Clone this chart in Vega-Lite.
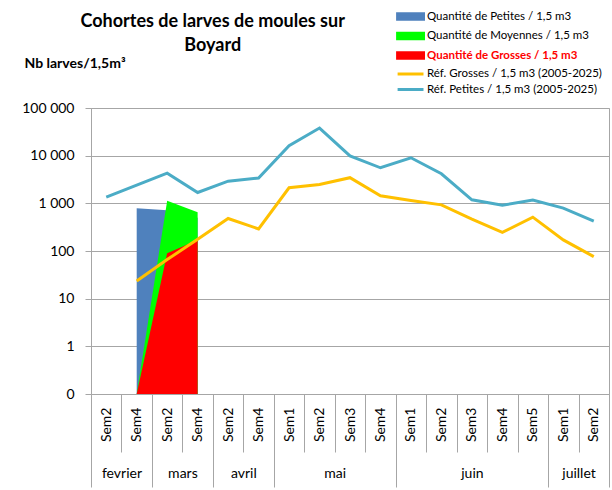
{
  "$schema": "https://vega.github.io/schema/vega-lite/v6.json",
  "width": 518,
  "height": 286,
  "autosize": {"type": "none"},
  "padding": {"left": 91, "top": 108, "right": 3, "bottom": 96},
  "background": "white",
  "config": {"view": {"stroke": "#a6a6a6"}, "font": "Lato"},
  "title": {
    "text": ["Cohortes de larves de moules sur", "Boyard"],
    "anchor": "start",
    "align": "center",
    "dx": 191,
    "offset": -47,
    "font": "Lato",
    "fontSize": 18,
    "fontWeight": "bold",
    "color": "black",
    "lineHeight": 24
  },
  "data": {
    "values": [
      {"wk": "fevrier|Sem4", "series": "Quantité de Petites / 1,5 m3", "value": 790},
      {"wk": "mars|Sem2", "series": "Quantité de Petites / 1,5 m3", "value": 715},
      {"wk": "mars|Sem4", "series": "Quantité de Petites / 1,5 m3", "value": 500},
      {"wk": "fevrier|Sem4", "series": "Quantité de Moyennes / 1,5 m3", "value": 0.1},
      {"wk": "mars|Sem2", "series": "Quantité de Moyennes / 1,5 m3", "value": 1130},
      {"wk": "mars|Sem4", "series": "Quantité de Moyennes / 1,5 m3", "value": 653},
      {"wk": "fevrier|Sem4", "series": "Quantité de Grosses / 1,5 m3", "value": 0.1},
      {"wk": "mars|Sem2", "series": "Quantité de Grosses / 1,5 m3", "value": 90},
      {"wk": "mars|Sem4", "series": "Quantité de Grosses / 1,5 m3", "value": 171},
      {"wk": "fevrier|Sem4", "series": "Réf. Grosses / 1,5 m3 (2005-2025)", "value": 23.5},
      {"wk": "mars|Sem2", "series": "Réf. Grosses / 1,5 m3 (2005-2025)", "value": 66},
      {"wk": "mars|Sem4", "series": "Réf. Grosses / 1,5 m3 (2005-2025)", "value": 177},
      {"wk": "avril|Sem2", "series": "Réf. Grosses / 1,5 m3 (2005-2025)", "value": 480},
      {"wk": "avril|Sem4", "series": "Réf. Grosses / 1,5 m3 (2005-2025)", "value": 291},
      {"wk": "mai|Sem1", "series": "Réf. Grosses / 1,5 m3 (2005-2025)", "value": 2120},
      {"wk": "mai|Sem2", "series": "Réf. Grosses / 1,5 m3 (2005-2025)", "value": 2480},
      {"wk": "mai|Sem3", "series": "Réf. Grosses / 1,5 m3 (2005-2025)", "value": 3450},
      {"wk": "mai|Sem4", "series": "Réf. Grosses / 1,5 m3 (2005-2025)", "value": 1440},
      {"wk": "juin|Sem1", "series": "Réf. Grosses / 1,5 m3 (2005-2025)", "value": 1150},
      {"wk": "juin|Sem2", "series": "Réf. Grosses / 1,5 m3 (2005-2025)", "value": 930},
      {"wk": "juin|Sem3", "series": "Réf. Grosses / 1,5 m3 (2005-2025)", "value": 466},
      {"wk": "juin|Sem4", "series": "Réf. Grosses / 1,5 m3 (2005-2025)", "value": 245},
      {"wk": "juin|Sem5", "series": "Réf. Grosses / 1,5 m3 (2005-2025)", "value": 513},
      {"wk": "juillet|Sem1", "series": "Réf. Grosses / 1,5 m3 (2005-2025)", "value": 171},
      {"wk": "juillet|Sem2", "series": "Réf. Grosses / 1,5 m3 (2005-2025)", "value": 76},
      {"wk": "fevrier|Sem2", "series": "Réf. Petites / 1,5 m3 (2005-2025)", "value": 1350},
      {"wk": "fevrier|Sem4", "series": "Réf. Petites / 1,5 m3 (2005-2025)", "value": 2400},
      {"wk": "mars|Sem2", "series": "Réf. Petites / 1,5 m3 (2005-2025)", "value": 4300},
      {"wk": "mars|Sem4", "series": "Réf. Petites / 1,5 m3 (2005-2025)", "value": 1690},
      {"wk": "avril|Sem2", "series": "Réf. Petites / 1,5 m3 (2005-2025)", "value": 2920},
      {"wk": "avril|Sem4", "series": "Réf. Petites / 1,5 m3 (2005-2025)", "value": 3390},
      {"wk": "mai|Sem1", "series": "Réf. Petites / 1,5 m3 (2005-2025)", "value": 16100},
      {"wk": "mai|Sem2", "series": "Réf. Petites / 1,5 m3 (2005-2025)", "value": 38000},
      {"wk": "mai|Sem3", "series": "Réf. Petites / 1,5 m3 (2005-2025)", "value": 9900},
      {"wk": "mai|Sem4", "series": "Réf. Petites / 1,5 m3 (2005-2025)", "value": 5570},
      {"wk": "juin|Sem1", "series": "Réf. Petites / 1,5 m3 (2005-2025)", "value": 9040},
      {"wk": "juin|Sem2", "series": "Réf. Petites / 1,5 m3 (2005-2025)", "value": 4170},
      {"wk": "juin|Sem3", "series": "Réf. Petites / 1,5 m3 (2005-2025)", "value": 1185},
      {"wk": "juin|Sem4", "series": "Réf. Petites / 1,5 m3 (2005-2025)", "value": 910},
      {"wk": "juin|Sem5", "series": "Réf. Petites / 1,5 m3 (2005-2025)", "value": 1170},
      {"wk": "juillet|Sem1", "series": "Réf. Petites / 1,5 m3 (2005-2025)", "value": 795},
      {"wk": "juillet|Sem2", "series": "Réf. Petites / 1,5 m3 (2005-2025)", "value": 423}
    ]
  },
  "layer": [
    {
      "encoding": {
        "x": {
          "field": "wk",
          "type": "nominal",
          "sort": null,
          "bandPosition": 0.5,
          "scale": {
            "type": "band",
            "paddingInner": 0,
            "paddingOuter": 0,
            "domain": ["fevrier|Sem2", "fevrier|Sem4", "mars|Sem2", "mars|Sem4", "avril|Sem2", "avril|Sem4", "mai|Sem1", "mai|Sem2", "mai|Sem3", "mai|Sem4", "juin|Sem1", "juin|Sem2", "juin|Sem3", "juin|Sem4", "juin|Sem5", "juillet|Sem1", "juillet|Sem2"]
          },
          "axis": {
            "orient": "bottom",
            "title": null,
            "labelExpr": "isString(datum.value) ? split(datum.value, '|')[1] : ''",
            "labelAngle": -90,
            "labelAlign": "right",
            "labelBaseline": "middle",
            "labelPadding": -45,
            "tickBand": "extent",
            "tickSize": 58,
            "tickColor": "#a6a6a6",
            "domainColor": "#a6a6a6",
            "labelFont": "Lato",
            "labelFontSize": 14,
            "labelColor": "black",
            "grid": false
          }
        },
        "y": {
          "field": "value",
          "type": "quantitative",
          "scale": {"type": "log", "domain": [0.1, 100000], "nice": false},
          "axis": {
            "values": [0.1, 1, 10, 100, 1000, 10000, 100000],
            "labelExpr": "datum.value < 1 ? '0' : replace(format(datum.value, ','), ',', ' ')",
            "grid": true,
            "gridColor": "#a6a6a6",
            "tickColor": "#a6a6a6",
            "domainColor": "#a6a6a6",
            "tickSize": 6,
            "labelPadding": 11,
            "labelFont": "Lato",
            "labelFontSize": 14,
            "labelColor": "black",
            "title": "Nb larves/1,5m³",
            "titleAngle": 0,
            "titleAlign": "left",
            "titleBaseline": "middle",
            "titleX": -67,
            "titleY": -45,
            "titleFont": "Lato",
            "titleFontSize": 14,
            "titleFontWeight": "bold",
            "titleColor": "black"
          }
        },
        "color": {
          "field": "series",
          "type": "nominal",
          "scale": {
            "domain": ["Quantité de Petites / 1,5 m3", "Quantité de Moyennes / 1,5 m3", "Quantité de Grosses / 1,5 m3", "Réf. Grosses / 1,5 m3 (2005-2025)", "Réf. Petites / 1,5 m3 (2005-2025)"],
            "range": ["#4f81bd", "#00ff00", "#ff0000", "#ffc000", "#4bacc6"]
          },
          "legend": {
            "orient": "none",
            "legendX": 310,
            "legendY": -100,
            "title": null,
            "padding": 0,
            "symbolSize": 196,
            "symbolOffset": 0,
            "labelFont": "Lato",
            "labelFontSize": 11.5,
            "labelColor": "black",
            "labelOffset": 9,
            "labelLimit": 300,
            "rowPadding": 0.5,
            "encode": {
              "symbols": {
                "update": {
                  "size": {"value": 196},
                  "shape": {"signal": "indexof(datum.value, 'Réf') === 0 ? 'M-1.7,0H2' : 'M-1.7,-0.4H2V0.4H-1.7Z'"},
                  "fill": {"signal": "indexof(datum.value, 'Réf') === 0 ? 'transparent' : scale('color', datum.value)"},
                  "stroke": {"signal": "indexof(datum.value, 'Réf') === 0 ? scale('color', datum.value) : 'transparent'"},
                  "strokeWidth": {"value": 3},
                  "opacity": {"value": 1}
                }
              },
              "labels": {
                "update": {
                  "fill": {"signal": "datum.value === 'Quantité de Grosses / 1,5 m3' ? '#ff0000' : '#000000'"},
                  "fontWeight": {"signal": "datum.value === 'Quantité de Grosses / 1,5 m3' ? 'bold' : 'normal'"}
                }
              }
            }
          }
        }
      },
      "layer": [
        {
          "transform": [{"filter": {"field": "series", "equal": "Quantité de Petites / 1,5 m3"}}],
          "mark": {"type": "area", "opacity": 1},
          "encoding": {"y2": {"datum": 0.1}}
        },
        {
          "transform": [{"filter": {"field": "series", "equal": "Quantité de Moyennes / 1,5 m3"}}],
          "mark": {"type": "area", "opacity": 1},
          "encoding": {"y2": {"datum": 0.1}}
        },
        {
          "transform": [{"filter": {"field": "series", "equal": "Quantité de Grosses / 1,5 m3"}}],
          "mark": {"type": "area", "opacity": 1},
          "encoding": {"y2": {"datum": 0.1}}
        },
        {
          "transform": [{"filter": {"field": "series", "oneOf": ["Réf. Grosses / 1,5 m3 (2005-2025)", "Réf. Petites / 1,5 m3 (2005-2025)"]}}],
          "mark": {"type": "line", "strokeWidth": 3, "interpolate": "linear"},
          "encoding": {}
        }
      ]
    },
    {
      "mark": {"type": "point", "opacity": 0},
      "encoding": {
        "x": {
          "datum": 0,
          "type": "quantitative",
          "scale": {"domain": [0, 17], "nice": false, "zero": false},
          "axis": {
            "orient": "bottom",
            "title": null,
            "values": [0, 2, 4, 6, 10, 15, 17],
            "labels": false,
            "domain": false,
            "grid": false,
            "ticks": true,
            "tickSize": 93,
            "tickColor": "#a6a6a6"
          }
        }
      }
    },
    {
      "mark": {"type": "point", "opacity": 0},
      "encoding": {
        "x": {
          "datum": 0,
          "type": "quantitative",
          "scale": {"domain": [0, 17], "nice": false, "zero": false},
          "axis": {
            "orient": "bottom",
            "title": null,
            "values": [1, 3, 5, 8, 12.5, 16],
            "labelExpr": "datum.value == 1 ? 'fevrier' : datum.value == 3 ? 'mars' : datum.value == 5 ? 'avril' : datum.value == 8 ? 'mai' : datum.value == 12.5 ? 'juin' : 'juillet'",
            "labelAngle": 0,
            "labelAlign": "center",
            "labelBaseline": "middle",
            "labelPadding": 79,
            "labelFlush": false,
            "labelOverlap": false,
            "ticks": false,
            "tickSize": 0,
            "domain": false,
            "grid": false,
            "labelFont": "Lato",
            "labelFontSize": 14,
            "labelColor": "black"
          }
        }
      }
    }
  ],
  "resolve": {"scale": {"x": "independent"}}
}
